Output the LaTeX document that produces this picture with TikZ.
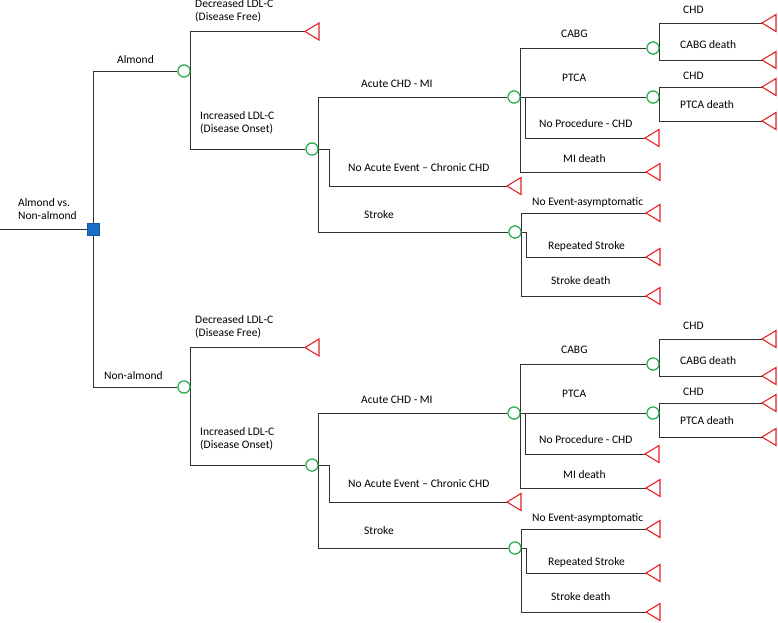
\documentclass[tikz,border=0pt]{standalone}
\usepackage{fontspec}
\setmainfont{Carlito}
\definecolor{chgreen}{RGB}{40,175,80}
\definecolor{termred}{RGB}{230,35,40}
\definecolor{decblue}{RGB}{25,110,195}
\definecolor{linegray}{RGB}{50,50,50}
\tikzset{
  edge/.style={draw=linegray, line width=0.85pt},
  chance/.style={circle, draw=chgreen, line width=1.1pt, fill=white, minimum size=12pt, inner sep=0pt},
  decision/.style={rectangle, draw=decblue!80!black, line width=0.5pt, fill=decblue, minimum size=12pt, inner sep=0pt},
  lbl/.style={anchor=base west, inner sep=0pt, font=\fontsize{11.5}{13}\selectfont},
  mlbl/.style={anchor=north west, inner sep=0pt, align=left, font=\fontsize{11.5}{13}\selectfont},
  termtri/.style={draw=termred, line width=1.1pt, fill=white},
}
\newcommand\treehalf[4]{%
\begin{scope}[yshift=-#2pt]
  % chance nodes
  \node[chance] (#1a) at (184,71) {};
  \node[chance] (#1inc) at (312,149) {};
  \node[chance] (#1acute) at (514,97) {};
  \node[chance] (#1stroke) at (515,232) {};
  \node[chance] (#1cabg) at (653,48) {};
  \node[chance] (#1ptca) at (653,97) {};
  % terminal coordinates
  \coordinate (#1dec) at (305,31.5);
  \coordinate (#1noac) at (507,186);
  \coordinate (#1noproc) at (645,138);
  \coordinate (#1mid) at (646,172);
  \coordinate (#1noev) at (646,213);
  \coordinate (#1rep) at (646,257);
  \coordinate (#1sd) at (646,296);
  \coordinate (#1chdA) at (762,23);
  \coordinate (#1cabgd) at (762,60);
  \coordinate (#1chdB) at (762,87);
  \coordinate (#1ptcad) at (762,121);
  % connectors
  \draw[edge] (root) |- (#1a.west);
  \draw[edge] (#1a.east) |- (#1dec);
  \draw[edge] (#1a.east) |- (#1inc.west);
  \draw[edge] (#1inc.east) |- (#1acute.west);
  \draw[edge] (#1inc.east) |- (#1stroke.west);
  \draw[edge] (#1inc.east) -- ++(11,0) |- (#1noac);
  \draw[edge] (#1acute.east) |- (#1cabg.west);
  \draw[edge] (#1acute.east) -- (#1ptca.west);
  \draw[edge] (#1acute.east) -- ++(5,0) |- (#1noproc);
  \draw[edge] (#1acute.east) |- (#1mid);
  \draw[edge] (#1stroke.east) |- (#1noev);
  \draw[edge] (#1stroke.east) -- ++(5,0) |- (#1rep);
  \draw[edge] (#1stroke.east) |- (#1sd);
  \draw[edge] (#1cabg.east) |- (#1chdA);
  \draw[edge] (#1cabg.east) |- (#1cabgd);
  \draw[edge] (#1ptca.east) |- (#1chdB);
  \draw[edge] (#1ptca.east) |- (#1ptcad);
  % redraw chance nodes on top
  \foreach \n in {a,inc,acute,stroke,cabg,ptca}{\node[chance] at (#1\n) {};}
  % terminals
  \foreach \t in {dec,noac,noproc,mid,noev,rep,sd,chdA,cabgd,chdB,ptcad}{%
    \draw[termtri] (#1\t) -- ++(14,-8.5) -- ++(0,17) -- cycle;}
  % labels
  \node[lbl] (#1lab) at (#4,63) {#3};
  \node[mlbl] (#1ldec) at (195,-1) {Decreased LDL-C\\(Disease Free)};
  \node[mlbl] (#1linc) at (200,111) {Increased LDL-C\\(Disease Onset)};
  \node[lbl] (#1lacute) at (361,87) {Acute CHD - MI};
  \node[lbl] (#1lnoac) at (348,171) {No Acute Event -- Chronic CHD};
  \node[lbl] (#1lstroke) at (364,218) {Stroke};
  \node[lbl] (#1lcabg) at (561,37) {CABG};
  \node[lbl] (#1lptca) at (562,81) {PTCA};
  \node[lbl] (#1lchdA) at (683,13) {CHD};
  \node[lbl] (#1lcabgd) at (680,48) {CABG death};
  \node[lbl] (#1lchdB) at (683,79) {CHD};
  \node[lbl] (#1lptcad) at (680,108) {PTCA death};
  \node[lbl] (#1lnoproc) at (539,127) {No Procedure - CHD};
  \node[lbl] (#1lmid) at (563,162) {MI death};
  \node[lbl] (#1lnoev) at (532,205) {No Event-asymptomatic};
  \node[lbl] (#1lrep) at (548,249) {Repeated Stroke};
  \node[lbl] (#1lsd) at (551,284) {Stroke death};
\end{scope}}
\begin{document}
\begin{tikzpicture}[x=1pt,y=-1pt]
  \useasboundingbox[fill=white] (0,0) rectangle (778,622);
  \node[decision] (root) at (93,229) {};
  \coordinate (in) at (0,229);
  \draw[edge] (in) -- (root);
  \treehalf{A}{0}{Almond}{117}
  \treehalf{B}{316}{Non-almond}{104}
  \node[decision] at (root) {};
  \node[mlbl] (rootlab) at (18,198) {Almond vs.\\Non-almond};
\end{tikzpicture}
\end{document}
